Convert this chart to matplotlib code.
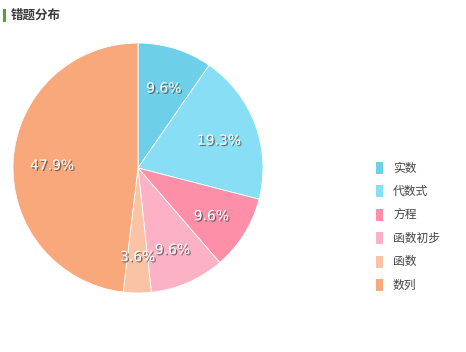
import matplotlib
matplotlib.use("Agg")
import matplotlib.pyplot as plt
import matplotlib.patheffects as pe
from matplotlib.patches import Rectangle

categories = ["实数", "代数式", "方程", "函数初步", "函数", "数列"]
values = [9.6, 19.3, 9.6, 9.6, 3.6, 47.9]
colors = ["#6dd0e8", "#88dff5", "#fd8fa8", "#fcb1c4", "#fbc3a5", "#f8a87a"]

W, H = 466, 352
fig = plt.figure(figsize=(W / 100, H / 100), dpi=100)
fig.patch.set_facecolor("white")

# pie axes: center (138,168), radius 125 px
cx, cy, r = 138, 168, 125
ax = fig.add_axes([(cx - r) / W, (H - cy - r) / H, 2 * r / W, 2 * r / H])

wedges, texts, autotexts = ax.pie(
    values, colors=colors, startangle=90, counterclock=False, radius=1,
    autopct=lambda p: f"{p:.1f}%", pctdistance=0.69,
    wedgeprops=dict(linewidth=0.6, edgecolor="white"),
    textprops=dict(color="white", fontsize=10, family="DejaVu Sans"),
)
ax.set_xlim(-1, 1)
ax.set_ylim(-1, 1)
ax.set_aspect("auto")
ax.axis("off")
for t, v in zip(autotexts, values):
    t.set_text(f"{v:.1f}%")
    x, y = t.get_position()
    t.set_position((x, y - 0.022))
    t.set_path_effects([pe.withSimplePatchShadow(offset=(1, -1), shadow_rgbFace="#444444", alpha=0.7)])

# title
fig.patches.append(Rectangle((3 / W, (H - 22) / H), 3 / W, 13 / H, transform=fig.transFigure,
                             facecolor="#5a9e3a", edgecolor="none"))
fig.text(11 / W, (H - 15.5) / H, "错题分布", fontsize=9, fontweight="bold", color="#3a3a3a",
         va="center", ha="left", family=["Noto Sans CJK SC", "DejaVu Sans"])

# legend
y0, dy = 168, 23.4
for i, (lab, col) in enumerate(zip(categories, colors)):
    yc = y0 + i * dy
    fig.patches.append(Rectangle((376 / W, (H - yc - 6) / H), 7 / W, 12 / H, transform=fig.transFigure,
                                 facecolor=col, edgecolor="none"))
    fig.text(393 / W, (H - yc) / H, lab, fontsize=8.5, color="#444444", va="center", ha="left",
             family=["Noto Sans CJK SC", "DejaVu Sans"])

fig.savefig("out.png", dpi=100, facecolor="white")
